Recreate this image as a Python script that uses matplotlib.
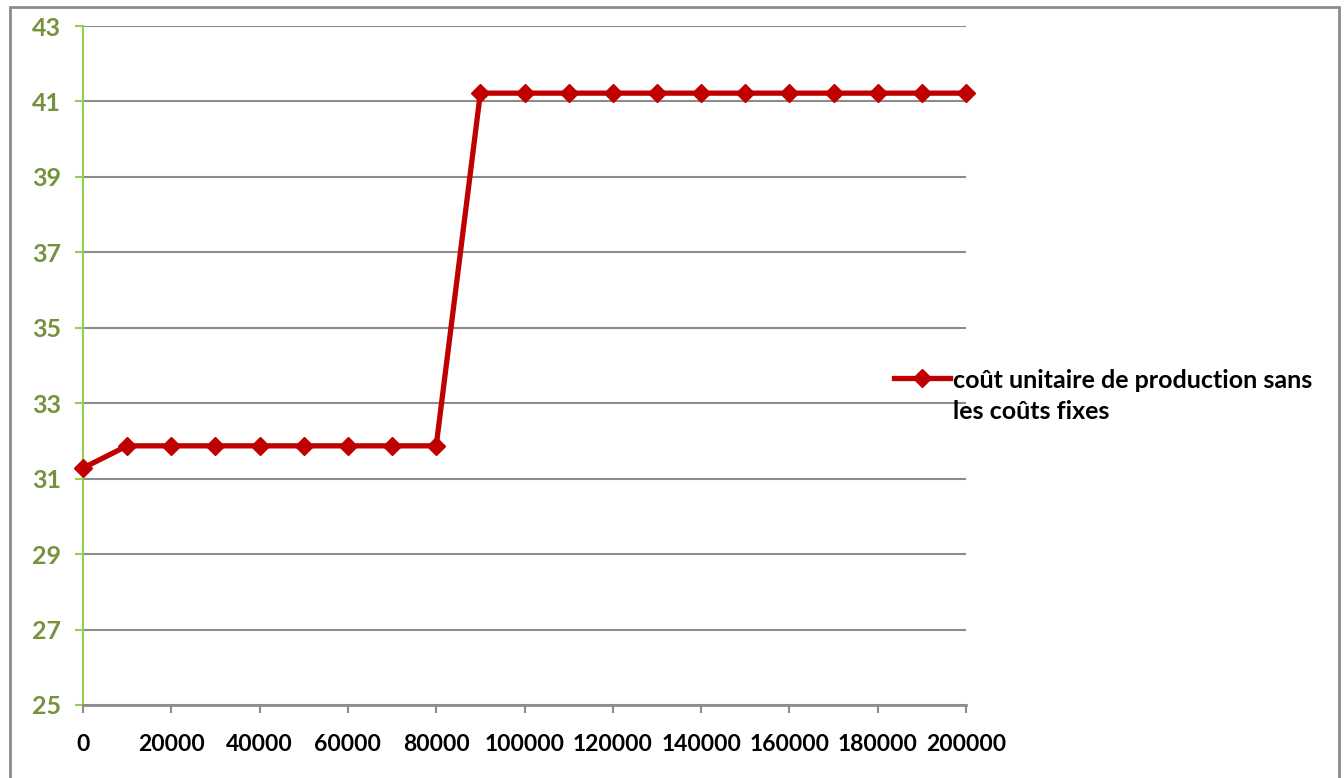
import matplotlib.pyplot as plt
from matplotlib.patches import Rectangle

# data
quantities = [0, 10000, 20000, 30000, 40000, 50000, 60000, 70000, 80000, 90000, 100000,
              110000, 120000, 130000, 140000, 150000, 160000, 170000, 180000, 190000, 200000]
unit_cost = [31.28, 31.87, 31.87, 31.87, 31.87, 31.87, 31.87, 31.87, 31.87, 41.22, 41.22,
             41.22, 41.22, 41.22, 41.22, 41.22, 41.22, 41.22, 41.22, 41.22, 41.22]
series_label = "coût unitaire de production sans\nles coûts fixes"
x_ticks = list(range(0, 200001, 20000))
y_ticks = list(range(25, 44, 2))

plt.rcParams['font.family'] = ['Lato', 'DejaVu Sans']
plt.rcParams['font.weight'] = 'bold'

fig = plt.figure(figsize=(13.44, 7.78), dpi=100)
ax = fig.add_axes([83 / 1344, 1 - 705 / 778, (966 - 83) / 1344, (705 - 26) / 778])

# outer frame of the chart
fig.patches.append(Rectangle((10 / 1344, -0.01), 1329 / 1344, 1 - 7 / 778 + 0.01,
                             transform=fig.transFigure, fill=False,
                             edgecolor='#8c8c8c', linewidth=2))

ax.plot(quantities, unit_cost, color='#c00000', linewidth=3.8, marker='D',
        markersize=9, label=series_label, clip_on=False, zorder=3)

ax.set_xlim(0, 200000)
ax.set_ylim(25, 43)
ax.set_xticks(x_ticks)
ax.set_xticklabels([str(t) for t in x_ticks])
ax.set_yticks(y_ticks)

ax.grid(axis='y', color='#8c8c8c', linewidth=1.5)
ax.set_axisbelow(True)
for side in ['top', 'right']:
    ax.spines[side].set_visible(False)
ax.spines['left'].set_color('#92d050')
ax.spines['left'].set_linewidth(1.5)
ax.spines['bottom'].set_color('#8c8c8c')
ax.spines['bottom'].set_linewidth(2)

ax.tick_params(axis='y', colors='#92d050', labelcolor='#76923c', labelsize=18,
               length=6, width=1.5, pad=10)
ax.tick_params(axis='x', colors='#8c8c8c', labelcolor='black', labelsize=16.5,
               length=6, width=1.5, pad=15)

leg = ax.legend(loc='upper left', bbox_to_anchor=(894 / 1344, 1 - 369 / 778),
                bbox_transform=fig.transFigure, frameon=False, fontsize=18,
                handlelength=2.25, handletextpad=0.1, borderpad=0, borderaxespad=0)
leg.get_texts()[0].set_linespacing(1.4)
# keep the marker level with the first line of the label
for col in leg._legend_handle_box.get_children():
    for row in col.get_children():
        row.align = 'top'

fig.savefig('out.png', dpi=100)
